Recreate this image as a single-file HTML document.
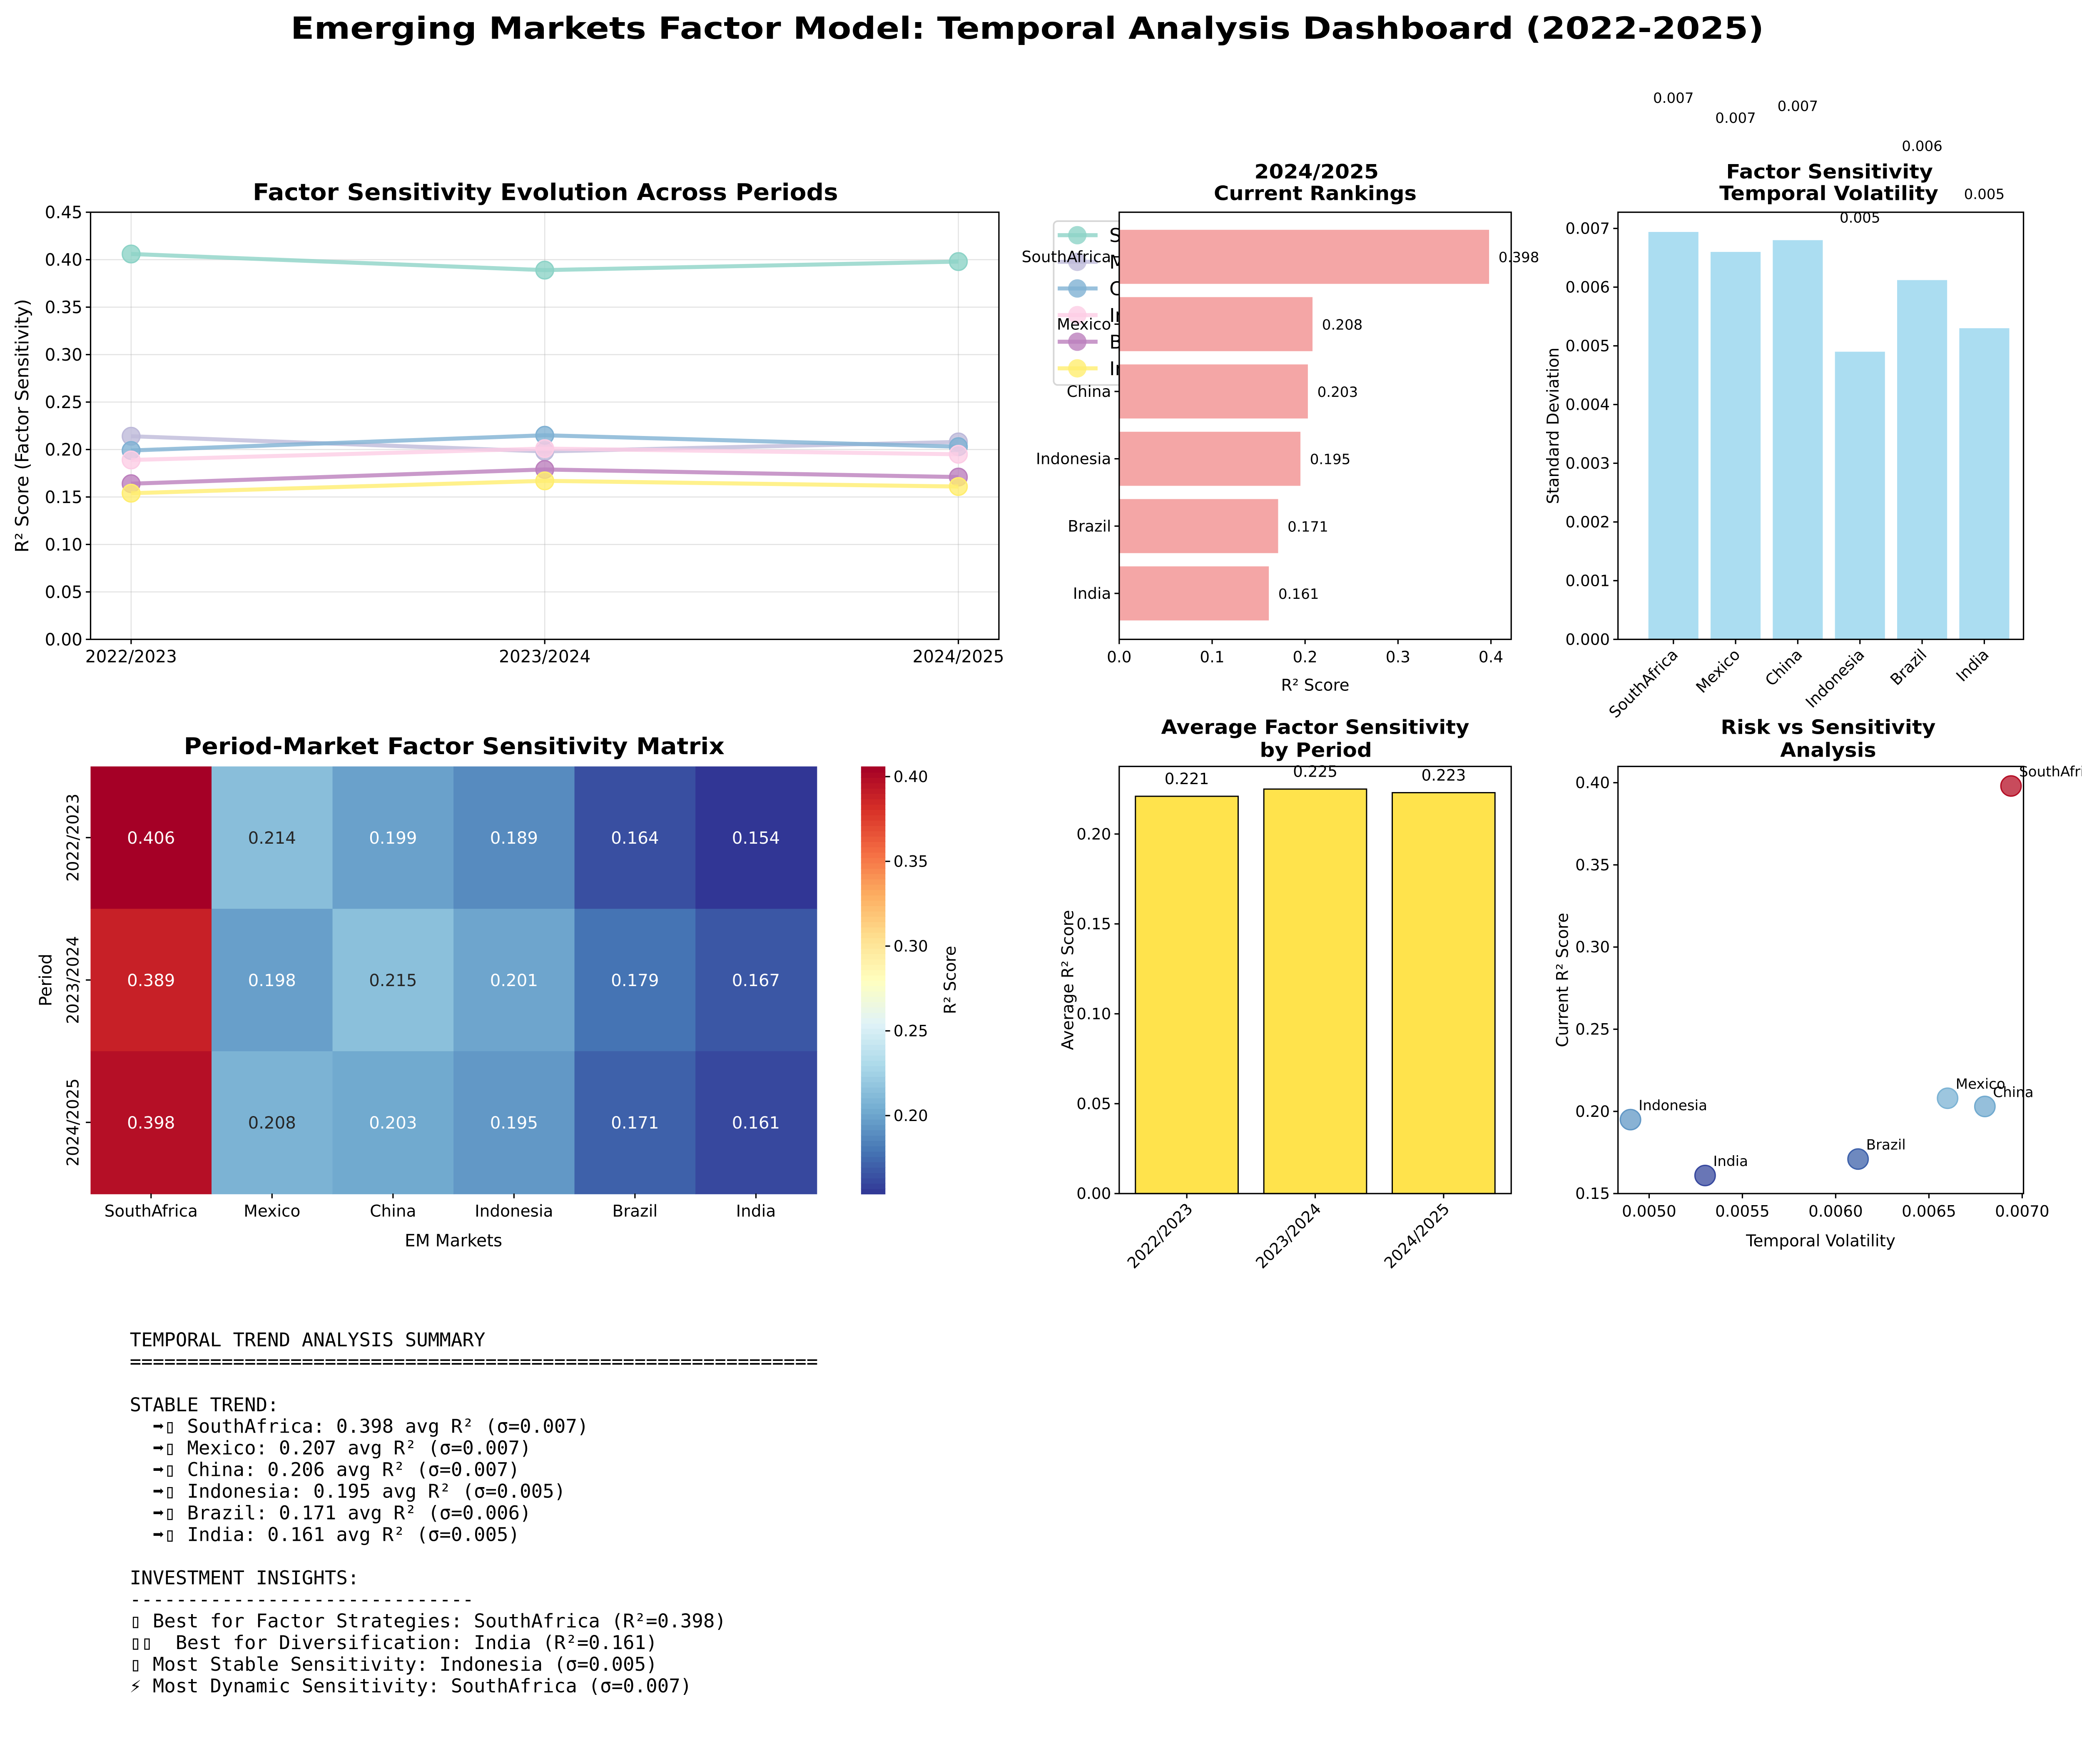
<!DOCTYPE html>
<html><head><meta charset="utf-8"><style>
html,body{margin:0;padding:0;background:#fff}
svg{display:block}
text{font-family:"DejaVu Sans","Liberation Sans",sans-serif}
.mono{font-family:"DejaVu Sans Mono","Liberation Mono",monospace;font-size:14.1px}
</style></head><body>
<svg id="fig" xmlns="http://www.w3.org/2000/svg" width="5090" height="4236" viewBox="0 0 1568 1305" preserveAspectRatio="none">
<rect width="1568" height="1305" fill="#fff"/>
<text x="215" y="28.7" font-size="22.5" font-weight="bold" textLength="1090" lengthAdjust="spacingAndGlyphs">Emerging Markets Factor Model: Temporal Analysis Dashboard (2022-2025)</text>
<g id="root"></g>
<g id="summary"></g>
</svg>
<script>
const periods=["2022/2023","2023/2024","2024/2025"];
const markets=["SouthAfrica","Mexico","China","Indonesia","Brazil","India"];
const legendNames=["SouthAfrica","Mexico","China","Indonesia","Brazil","India"];
const valsSouthAfrica=[0.406,0.389,0.398];
const valsMexico=[0.214,0.198,0.208];
const valsChina=[0.199,0.215,0.203];
const valsIndonesia=[0.189,0.201,0.195];
const valsBrazil=[0.164,0.179,0.171];
const valsIndia=[0.154,0.167,0.161];
const volatility=[0.00694,0.0066,0.0068,0.0049,0.00612,0.0053];
const volLabels=["0.007","0.007","0.007","0.005","0.006","0.005"];
const periodAvg=[0.221,0.225,0.223];
const yTicksLine=[0,0.05,0.1,0.15,0.2,0.25,0.3,0.35,0.4,0.45];
const xTicksRank=[0,0.1,0.2,0.3,0.4];
const yTicksVol=[0,0.001,0.002,0.003,0.004,0.005,0.006,0.007];
const yTicksAvg=[0,0.05,0.1,0.15,0.2];
const xTicksScatter=[0.005,0.0055,0.006,0.0065,0.007];
const yTicksScatter=[0.15,0.2,0.25,0.3,0.35,0.4];
const cbTicks=[0.2,0.25,0.3,0.35,0.4];
const seriesColors=["#8dd3c7","#bebada","#80b1d3","#fccde5","#bc80bd","#ffed6f"];

const NS="http://www.w3.org/2000/svg";
const root=document.getElementById('root');
function mk(tag,attrs,parent,txt){const e=document.createElementNS(NS,tag);for(const k in attrs)e.setAttribute(k,attrs[k]);if(txt!==undefined)e.textContent=txt;(parent||root).appendChild(e);return e;}
function lin(d0,d1,r0,r1){return v=>r0+(v-d0)/(d1-d0)*(r1-r0);}
function title(g,cx,y,w,size,txt,name){const t=mk('text',{x:cx,y:y,'text-anchor':'middle','font-size':size,'font-weight':'bold',textLength:w,lengthAdjust:'spacingAndGlyphs'},g,txt);
 return t;}
const allVals=[valsSouthAfrica,valsMexico,valsChina,valsIndonesia,valsBrazil,valsIndia];
const current=allVals.map(a=>a[2]);
const vmin=Math.min(...allVals.flat()),vmax=Math.max(...allVals.flat());
const cm=[[49,54,149],[69,117,180],[116,173,209],[171,217,233],[224,243,248],[255,255,191],[254,224,144],[253,174,97],[244,109,67],[215,48,39],[165,0,38]];
function cmap(t){t=Math.max(0,Math.min(1,t));const p=t*10,i=Math.min(9,Math.floor(p)),f=p-i;const a=cm[i],b=cm[i+1];return [0,1,2].map(k=>Math.round(a[k]+(b[k]-a[k])*f));}
function rgb(c){return `rgb(${c[0]},${c[1]},${c[2]})`;}
function relLum(c){const l=c.map(v=>{v/=255;return v<=0.03928?v/12.92:Math.pow((v+0.055)/1.055,2.4);});return 0.2126*l[0]+0.7152*l[1]+0.0722*l[2];}
function fmt(v,d){return v.toFixed(d);}

// Panel 1
(function(){
const L=67,R=739,T=157,B=473;
const g=mk('g',{});


const x=i=>lin(0,2,97,709)(i), y=lin(0,0.45,B,T);
yTicksLine.forEach(t=>{mk('line',{x1:L,x2:R,y1:y(t),y2:y(t),stroke:'#b0b0b0','stroke-opacity':0.35,'stroke-width':0.8},g);
 mk('line',{x1:L-3.5,x2:L,y1:y(t),y2:y(t),stroke:'#000'},g);
 const tl=mk('text',{x:L-6,y:y(t)+4.5,'text-anchor':'end','font-size':12.5},g,fmt(t,2));
 });
periods.forEach((p,i)=>{mk('line',{x1:x(i),x2:x(i),y1:T,y2:B,stroke:'#b0b0b0','stroke-opacity':0.35,'stroke-width':0.8},g);
 mk('line',{x1:x(i),x2:x(i),y1:B,y2:B+3.5,stroke:'#000'},g);
 const tl=mk('text',{x:x(i),y:B+17,'text-anchor':'middle','font-size':12.5},g,p);
 });
allVals.forEach((vals,s)=>{
 const pl=mk('polyline',{points:vals.map((v,i)=>x(i)+','+y(v)).join(' '),fill:'none',stroke:seriesColors[s],'stroke-width':3,'stroke-opacity':0.8},g);
 
 vals.forEach((v,i)=>{const c=mk('circle',{cx:x(i),cy:y(v),r:6.5,fill:seriesColors[s],'fill-opacity':0.8,stroke:seriesColors[s],'stroke-width':1},g);
  });
});
mk('rect',{x:L,y:T,width:R-L,height:B-T,fill:'none',stroke:'#000','stroke-width':1},g);
title(g,403.5,148,433,17,'Factor Sensitivity Evolution Across Periods','line-chart-title');
const yl=mk('text',{x:0,y:0,'text-anchor':'middle','font-size':13.5,transform:`translate(21,${(T+B)/2}) rotate(-90)`},g,'R² Score (Factor Sensitivity)');

const lg=mk('g',{},g);

mk('rect',{x:779.5,y:163.6,width:120,height:121.2,rx:3,fill:'#fff','fill-opacity':0.8,stroke:'#d6d6d6','stroke-width':1.2},lg);
legendNames.forEach((n,i)=>{const yy=174+i*19.7;
 mk('line',{x1:782.5,x2:812,y1:yy,y2:yy,stroke:seriesColors[i],'stroke-width':3,'stroke-opacity':0.8},lg);
 mk('circle',{cx:797,cy:yy,r:6.8,fill:seriesColors[i],'fill-opacity':0.8},lg);
 const e=mk('text',{x:820.7,y:yy+5,'font-size':14},lg,n);
 });
})();

// Panel 2
(function(){
const L=828,R=1118,T=157,B=473;
const g=mk('g',{});

mk('rect',{x:L,y:T,width:R-L,height:B-T,fill:'#fff'},g);
const x=lin(0,0.4218,L,R);
markets.forEach((m,i)=>{const yc=190+i*49.8;
 const r=mk('rect',{x:L,y:yc-20,width:x(current[i])-L,height:40,fill:'#f08080','fill-opacity':0.7},g);
 
 const v=mk('text',{x:x(current[i])+7,y:yc+4,'font-size':10.5},g,fmt(current[i],3));
 
 mk('line',{x1:L-3.5,x2:L,y1:yc,y2:yc,stroke:'#000'},g);
 const tl=mk('text',{x:L-6,y:yc+4,'text-anchor':'end','font-size':11.5},g,m);
 });
xTicksRank.forEach(t=>{mk('line',{x1:x(t),x2:x(t),y1:B,y2:B+3.5,stroke:'#000'},g);
 const tl=mk('text',{x:x(t),y:B+17,'text-anchor':'middle','font-size':11.5},g,fmt(t,1));
 });
mk('rect',{x:L,y:T,width:R-L,height:B-T,fill:'none',stroke:'#000','stroke-width':1},g);
title(g,974,132,92,14.5,'2024/2025','rankings-title');
title(g,973,148,150,14.5,'Current Rankings','rankings-subtitle');
const xl=mk('text',{x:(L+R)/2,y:511,'text-anchor':'middle','font-size':12},g,'R² Score');

})();

// Panel 3
(function(){
const L=1197,R=1497,T=157,B=473;
const g=mk('g',{});

const y=lin(0,0.007276,B,T);
const x=i=>1238+i*46;
markets.forEach((m,i)=>{
 const r=mk('rect',{x:x(i)-18.5,y:y(volatility[i]),width:37,height:B-y(volatility[i]),fill:'#87ceeb','fill-opacity':0.7},g);
 
 const v=mk('text',{x:x(i),y:y(volatility[i]+0.0022),'text-anchor':'middle','font-size':10.5},g,volLabels[i]);
 
 mk('line',{x1:x(i),x2:x(i),y1:B,y2:B+3.5,stroke:'#000'},g);
 const tl=mk('text',{x:0,y:0,'text-anchor':'end','font-size':11.5,transform:`translate(${x(i)+4},${B+12}) rotate(-45)`},g,m);
 });
yTicksVol.forEach(t=>{mk('line',{x1:L-3.5,x2:L,y1:y(t),y2:y(t),stroke:'#000'},g);
 const tl=mk('text',{x:L-6,y:y(t)+4,'text-anchor':'end','font-size':11.5},g,fmt(t,3));
 });
mk('rect',{x:L,y:T,width:R-L,height:B-T,fill:'none',stroke:'#000','stroke-width':1},g);
title(g,1353.5,132,153,14.5,'Factor Sensitivity','volatility-title');
title(g,1353,148,162,14.5,'Temporal Volatility','volatility-subtitle');
const yl=mk('text',{x:0,y:0,'text-anchor':'middle','font-size':12,transform:`translate(1153,${(T+B)/2}) rotate(-90)`},g,'Standard Deviation');

})();

// Panel 4 heatmap
(function(){
const L=67,R=604,T=567,B=883;
const g=mk('g',{});

const cw=(R-L)/6,ch=(B-T)/3;
periods.forEach((p,r)=>{
 markets.forEach((m,c)=>{const v=allVals[c][r];const col=cmap((v-vmin)/(vmax-vmin));
  const cell=mk('rect',{x:L+c*cw,y:T+r*ch,width:cw+0.5,height:ch+0.5,fill:rgb(col)},g);
  
  const tx=mk('text',{x:L+c*cw+cw/2,y:T+r*ch+ch/2+4.5,'text-anchor':'middle','font-size':12.4,style:'fill:'+(relLum(col)>0.408?'#262626':'#ffffff')},g,fmt(v,3));
  });
 const yc=T+r*ch+ch/2;
 mk('line',{x1:L-3.5,x2:L,y1:yc,y2:yc,stroke:'#000'},g);
 const tl=mk('text',{x:0,y:0,'text-anchor':'middle','font-size':12,transform:`translate(${L-9},${yc}) rotate(-90)`},g,p);
 });
markets.forEach((m,c)=>{const xc=L+c*cw+cw/2;mk('line',{x1:xc,x2:xc,y1:B,y2:B+3.5,stroke:'#000'},g);
 const tl=mk('text',{x:xc,y:B+17,'text-anchor':'middle','font-size':12},g,m);
 });
title(g,336,558,400,17,'Period-Market Factor Sensitivity Matrix','heatmap-title');
const xl=mk('text',{x:(L+R)/2,y:922,'text-anchor':'middle','font-size':12.5},g,'EM Markets');

const yl=mk('text',{x:0,y:0,'text-anchor':'middle','font-size':12.5,transform:`translate(38,${(T+B)/2}) rotate(-90)`},g,'Period');

const cb=mk('g',{},g);
const CL=637,CR=655,n=80;
for(let i=0;i<n;i++){mk('rect',{x:CL,y:B-(i+1)*(B-T)/n,width:CR-CL,height:(B-T)/n+0.6,fill:rgb(cmap((i+0.5)/n))},cb);}
const cy=lin(vmin,vmax,B,T);
cbTicks.forEach(t=>{mk('line',{x1:CR,x2:CR+3.5,y1:cy(t),y2:cy(t),stroke:'#000'},cb);
 const tl=mk('text',{x:CR+6,y:cy(t)+4,'font-size':11.5},cb,fmt(t,2));
 });
mk('text',{x:0,y:0,'text-anchor':'middle','font-size':12,transform:`translate(707,${(T+B)/2}) rotate(-90)`},cb,'R² Score');
})();

// Panel 5
(function(){
const L=828,R=1118,T=567,B=883;
const g=mk('g',{});

const y=lin(0,0.2376,B,T);
const x=i=>878+i*95;
periods.forEach((p,i)=>{
 const r=mk('rect',{x:x(i)-38,y:y(periodAvg[i]),width:76,height:B-y(periodAvg[i]),fill:'#ffd700','fill-opacity':0.7,stroke:'#000','stroke-width':0.9},g);
 
 const v=mk('text',{x:x(i),y:y(periodAvg[i])-9,'text-anchor':'middle','font-size':11.5},g,fmt(periodAvg[i],3));
 
 mk('line',{x1:x(i),x2:x(i),y1:B,y2:B+3.5,stroke:'#000'},g);
 const tl=mk('text',{x:0,y:0,'text-anchor':'end','font-size':11.5,transform:`translate(${x(i)+5},${B+12}) rotate(-45)`},g,p);
 });
yTicksAvg.forEach(t=>{mk('line',{x1:L-3.5,x2:L,y1:y(t),y2:y(t),stroke:'#000'},g);
 const tl=mk('text',{x:L-6,y:y(t)+4,'text-anchor':'end','font-size':11.5},g,fmt(t,2));
 });
mk('rect',{x:L,y:T,width:R-L,height:B-T,fill:'none',stroke:'#000','stroke-width':1},g);
title(g,973,543,228,14.5,'Average Factor Sensitivity','average-title');
title(g,973.5,560,83,14.5,'by Period','average-subtitle');
const yl=mk('text',{x:0,y:0,'text-anchor':'middle','font-size':12,transform:`translate(794,${(T+B)/2}) rotate(-90)`},g,'Average R² Score');

})();

// Panel 6
(function(){
const L=1197,R=1497,T=567,B=883;
const g=mk('g',{});

const x=lin(0.004833,0.007007,L,R), y=lin(0.15,0.4099,B,T);
markets.forEach((m,i)=>{const col=cmap((current[i]-vmin)/(vmax-vmin));
 const c=mk('circle',{cx:x(volatility[i]),cy:y(current[i]),r:7.5,fill:rgb(col),'fill-opacity':0.75,stroke:rgb(col),'stroke-width':1},g);
 
 const tl=mk('text',{x:x(volatility[i])+6,y:y(current[i])-7,'font-size':10.5},g,m);
 });
xTicksScatter.forEach(t=>{mk('line',{x1:x(t),x2:x(t),y1:B,y2:B+3.5,stroke:'#000'},g);
 const tl=mk('text',{x:x(t),y:B+17,'text-anchor':'middle','font-size':11.5},g,fmt(t,4));
 });
yTicksScatter.forEach(t=>{mk('line',{x1:L-3.5,x2:L,y1:y(t),y2:y(t),stroke:'#000'},g);
 const tl=mk('text',{x:L-6,y:y(t)+4,'text-anchor':'end','font-size':11.5},g,fmt(t,2));
 });
mk('rect',{x:L,y:T,width:R-L,height:B-T,fill:'none',stroke:'#000','stroke-width':1},g);
title(g,1352.5,543,159,14.5,'Risk vs Sensitivity','scatter-title');
title(g,1352.5,560,71,14.5,'Analysis','scatter-subtitle');
const xl=mk('text',{x:(L+R)/2,y:922,'text-anchor':'middle','font-size':12},g,'Temporal Volatility');

const yl=mk('text',{x:0,y:0,'text-anchor':'middle','font-size':12,transform:`translate(1160,${(T+B)/2}) rotate(-90)`},g,'Current R² Score');

})();

// Summary
(function(){
const sg=document.getElementById('summary');
const lines=["TEMPORAL TREND ANALYSIS SUMMARY","=".repeat(60),"","STABLE TREND:",
"  ➡▯ SouthAfrica: 0.398 avg R² (σ=0.007)","  ➡▯ Mexico: 0.207 avg R² (σ=0.007)","  ➡▯ China: 0.206 avg R² (σ=0.007)",
"  ➡▯ Indonesia: 0.195 avg R² (σ=0.005)","  ➡▯ Brazil: 0.171 avg R² (σ=0.006)","  ➡▯ India: 0.161 avg R² (σ=0.005)","",
"INVESTMENT INSIGHTS:","-".repeat(30),"▯ Best for Factor Strategies: SouthAfrica (R²=0.398)","▯▯  Best for Diversification: India (R²=0.161)",
"▯ Most Stable Sensitivity: Indonesia (σ=0.005)","⚡ Most Dynamic Sensitivity: SouthAfrica (σ=0.007)"];
lines.forEach((l,i)=>{if(!l)return;const t=mk('text',{x:96,y:996+i*16,'class':'mono'},sg,l);
 t.setAttribute('style','white-space:pre');
 });
})();
</script>
</body></html>
